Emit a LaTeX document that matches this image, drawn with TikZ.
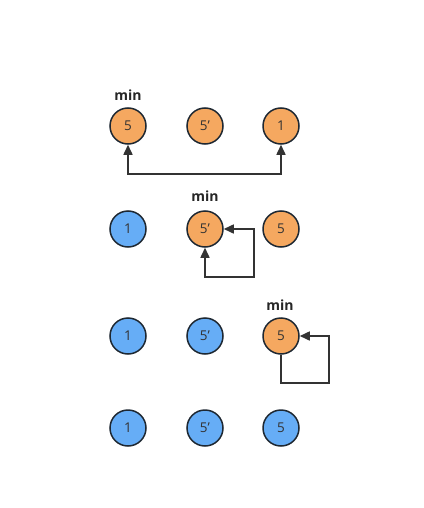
\documentclass[tikz,border=0pt]{standalone}
\usepackage{fontspec}
\setmainfont{Open Sans}
\usetikzlibrary{arrows.meta}
\definecolor{org}{RGB}{245,168,96}
\definecolor{blu}{RGB}{102,173,246}
\definecolor{edge}{RGB}{30,40,50}
\newcommand{\pr}{\char"0027\relax}
\tikzset{
  ball/.style={circle,draw=edge,line width=1.5pt,minimum size=36pt,inner sep=0pt,font=\fontsize{13.5}{16}\selectfont,text=black!80},
  og/.style={ball,fill=org},
  bl/.style={ball,fill=blu},
  lbl/.style={font=\bfseries\fontsize{14}{16}\selectfont,text=black!85},
  conn/.style={draw=black!80,line width=1.5pt,-{Triangle[length=10pt,width=9pt]}},
  conn2/.style={draw=black!80,line width=1.5pt,{Triangle[length=10pt,width=9pt]}-{Triangle[length=10pt,width=9pt]}},
}
\begin{document}
\begin{tikzpicture}[x=1pt,y=-1pt]
\useasboundingbox (0,0) rectangle (423,508);
% row 1
\node[og] (a1) at (128,126) {5};
\node[og] (a2) at (205,126) {5\pr};
\node[og] (a3) at (281,126) {1};
\node[lbl] (m1) at (128,95) {min};
\coordinate (c1) at (128,174);
\coordinate (c2) at (281,174);
\draw[conn2] (a1.south) -- (c1) -- (c2) -- (a3.south);
% row 2
\node[bl] (b1) at (128,229) {1};
\node[og] (b2) at (205,229) {5\pr};
\node[og] (b3) at (281,229) {5};
\node[lbl] (m2) at (205,196) {min};
\coordinate (d1) at (254,229);
\coordinate (d2) at (254,277);
\coordinate (d3) at (205,277);
\draw[conn2] (b2.east) -- (d1) -- (d2) -- (d3) -- (b2.south);
% row 3
\node[bl] (r1) at (128,336) {1};
\node[bl] (r2) at (205,336) {5\pr};
\node[og] (r3) at (281,336) {5};
\node[lbl] (m3) at (280,305) {min};
\coordinate (e1) at (281,383);
\coordinate (e2) at (329,383);
\coordinate (e3) at (329,336);
\draw[conn] (r3.south) -- (e1) -- (e2) -- (e3) -- (r3.east);
% row 4
\node[bl] (s1) at (128,428) {1};
\node[bl] (s2) at (205,428) {5\pr};
\node[bl] (s3) at (281,428) {5};
\end{tikzpicture}
\end{document}
